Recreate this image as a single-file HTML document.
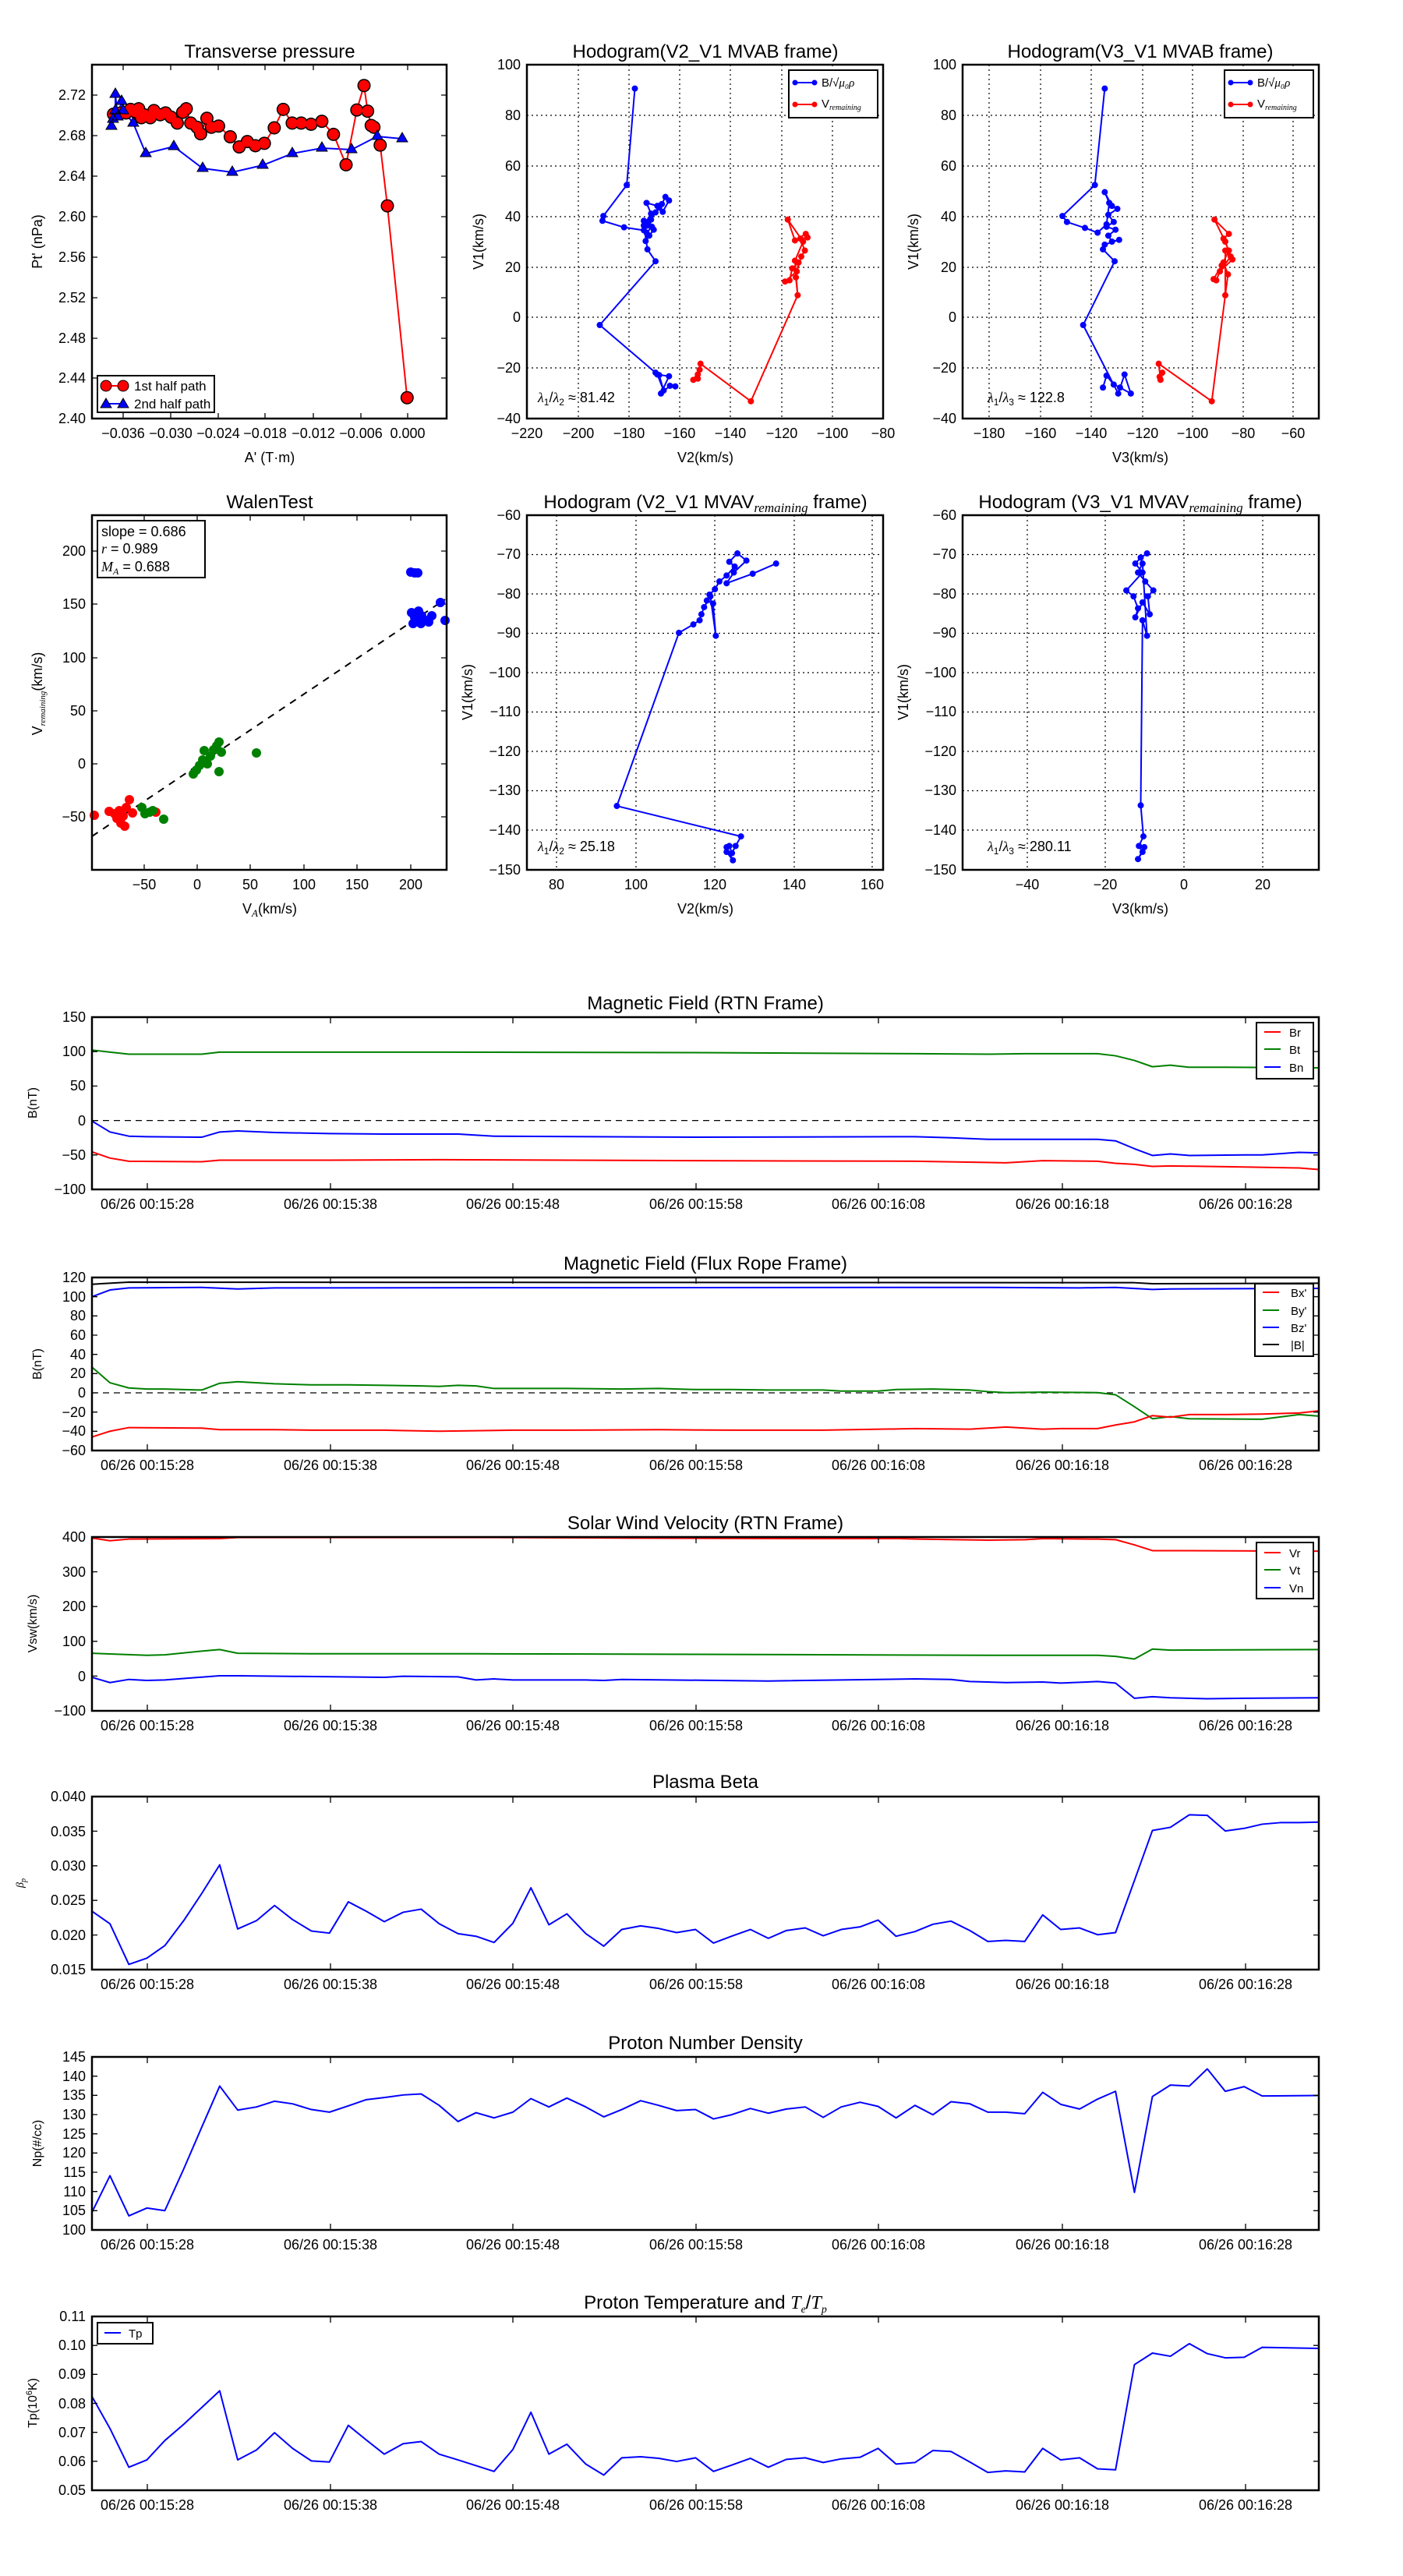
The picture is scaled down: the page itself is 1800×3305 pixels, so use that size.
<!DOCTYPE html>
<html><head><meta charset="utf-8"><style>
html,body{margin:0;padding:0;background:#fff}
text{font-family:"Liberation Sans",sans-serif;font-size:18px;fill:#000}
.t{font-size:24px;text-anchor:middle}
.m{text-anchor:middle}
.e{text-anchor:end}
.fr{fill:none;stroke:#000;stroke-width:2.5}
.tk{stroke:#000;stroke-width:1.3}
.g{stroke:#000;stroke-width:1.2;stroke-dasharray:2,4}
.ln{fill:none;stroke-width:2;vector-effect:non-scaling-stroke;stroke-linejoin:round}
.dot{fill:none;stroke-linecap:round;vector-effect:non-scaling-stroke}
</style></head><body>
<svg width="1800" height="3300" xmlns="http://www.w3.org/2000/svg">
<rect width="1800" height="3300" fill="#fff"/>

<!-- ============ Plot A: Transverse pressure ============ -->
<text class="t" x="346" y="74">Transverse pressure</text>
<g class="tk">
<path d="M118 122h7M118 174h7M118 226h7M118 278h7M118 330h7M118 382h7M118 434h7M118 485h7M573 122h-7M573 174h-7M573 226h-7M573 278h-7M573 330h-7M573 382h-7M573 434h-7M573 485h-7"/>
<path d="M158 537v-7M219 537v-7M280 537v-7M340 537v-7M402 537v-7M463 537v-7M523 537v-7M158 83v7M219 83v7M280 83v7M340 83v7M402 83v7M463 83v7M523 83v7"/>
</g>
<g class="e"><text x="110" y="128">2.72</text><text x="110" y="180">2.68</text><text x="110" y="232">2.64</text><text x="110" y="284">2.60</text><text x="110" y="336">2.56</text><text x="110" y="388">2.52</text><text x="110" y="440">2.48</text><text x="110" y="491">2.44</text><text x="110" y="543">2.40</text></g>
<g class="m"><text x="158" y="562">−0.036</text><text x="219" y="562">−0.030</text><text x="280" y="562">−0.024</text><text x="340" y="562">−0.018</text><text x="402" y="562">−0.012</text><text x="463" y="562">−0.006</text><text x="523" y="562">0.000</text></g>
<text class="m" x="346" y="593">A' (T·m)</text>
<text class="m" transform="translate(54,310) rotate(-90)">Pt' (nPa)</text>
<polyline fill="none" stroke="#00f" stroke-width="2" points="143,162 145,153 148,142 148,121 151,150 156,130 158,142 171,158 187,197 223,188 260,216 298,221 337,212 375,197 413,190 451,192 484,175 516,178"/>
<svg x="118" y="83" width="455" height="454" viewBox="102 108 395 594" preserveAspectRatio="none">
<polyline class="ln" stroke="#f00" points="453,667 431,345 423,243 416,213 413,210 409,186 405,143 397,184 385,276 371,225 358,203 346,208 335,206 325,206 315,183 305,214 294,240 284,244 275,237 266,246 256,229 243,211 235,213 230,198 223,224 219,213 212,206 207,182 203,188 197,206 190,196 184,189 178,192 171,185 167,197 160,192 157,197 154,182 150,187 145,183 140,189 134,189 126,191"/>
<path class="dot" stroke="#000" stroke-width="17" d="M453 667h.01M431 345h.01M423 243h.01M416 213h.01M413 210h.01M409 186h.01M405 143h.01M397 184h.01M385 276h.01M371 225h.01M358 203h.01M346 208h.01M335 206h.01M325 206h.01M315 183h.01M305 214h.01M294 240h.01M284 244h.01M275 237h.01M266 246h.01M256 229h.01M243 211h.01M235 213h.01M230 198h.01M223 224h.01M219 213h.01M212 206h.01M207 182h.01M203 188h.01M197 206h.01M190 196h.01M184 189h.01M178 192h.01M171 185h.01M167 197h.01M160 192h.01M157 197h.01M154 182h.01M150 187h.01M145 183h.01M140 189h.01M134 189h.01M126 191h.01"/>
<path class="dot" stroke="#f00" stroke-width="14" d="M453 667h.01M431 345h.01M423 243h.01M416 213h.01M413 210h.01M409 186h.01M405 143h.01M397 184h.01M385 276h.01M371 225h.01M358 203h.01M346 208h.01M335 206h.01M325 206h.01M315 183h.01M305 214h.01M294 240h.01M284 244h.01M275 237h.01M266 246h.01M256 229h.01M243 211h.01M235 213h.01M230 198h.01M223 224h.01M219 213h.01M212 206h.01M207 182h.01M203 188h.01M197 206h.01M190 196h.01M184 189h.01M178 192h.01M171 185h.01M167 197h.01M160 192h.01M157 197h.01M154 182h.01M150 187h.01M145 183h.01M140 189h.01M134 189h.01M126 191h.01"/>
</svg>
<g fill="#00f" stroke="#000" stroke-width="1">
<path d="M143 154l7 12h-14z M145 145l7 12h-14z M148 134l7 12h-14z M148 113l7 12h-14z M151 142l7 12h-14z M156 122l7 12h-14z M158 134l7 12h-14z M171 150l7 12h-14z M187 189l7 12h-14z M223 180l7 12h-14z M260 208l7 12h-14z M298 213l7 12h-14z M337 204l7 12h-14z M375 189l7 12h-14z M413 182l7 12h-14z M451 184l7 12h-14z M484 167l7 12h-14z M516 170l7 12h-14z"/>
</g>
<rect x="125" y="482" width="150" height="47" fill="#fff" stroke="#000" stroke-width="2"/>
<line x1="136" y1="495" x2="158" y2="495" stroke="#f00" stroke-width="2"/>
<circle cx="136" cy="495" r="7" fill="#f00" stroke="#000"/><circle cx="158" cy="495" r="7" fill="#f00" stroke="#000"/>
<text x="172" y="501" style="font-size:17px">1st half path</text>
<line x1="136" y1="518" x2="158" y2="518" stroke="#00f" stroke-width="2"/>
<path d="M136 511l7 12h-14zM158 511l7 12h-14z" fill="#00f" stroke="#000"/>
<text x="172" y="524" style="font-size:17px">2nd half path</text>
<rect class="fr" x="118" y="83" width="455" height="454"/>

<!-- ============ Plot B ============ -->
<text class="t" x="905" y="74">Hodogram(V2_V1 MVAB frame)</text>
<g class="g"><path d="M742 83V537M807 83V537M872 83V537M937 83V537M1003 83V537M1068 83V537M676 148H1133M676 213H1133M676 278H1133M676 343H1133M676 407H1133M676 472H1133"/></g>
<g class="e"><text x="668" y="89">100</text><text x="668" y="154">80</text><text x="668" y="219">60</text><text x="668" y="284">40</text><text x="668" y="349">20</text><text x="668" y="413">0</text><text x="668" y="478">−20</text><text x="668" y="543">−40</text></g>
<g class="m"><text x="676" y="562">−220</text><text x="742" y="562">−200</text><text x="807" y="562">−180</text><text x="872" y="562">−160</text><text x="937" y="562">−140</text><text x="1003" y="562">−120</text><text x="1068" y="562">−100</text><text x="1133" y="562">−80</text></g>
<text class="m" x="905" y="593">V2(km/s)</text>
<text class="m" transform="translate(620,310) rotate(-90)">V1(km/s)</text>
<svg x="676" y="83" width="457" height="454" viewBox="586 108 396 594" preserveAspectRatio="none">
<polyline class="ln" stroke="#00f" points="706,148 697,310 671,362 670,370 694,381 716,386 721,372 725,380 719,390 718,404 722,395 727,385 720,378 716,370 724,368 729,356 733,348 736,342 740,330 744,336 737,355 731,345 719,340 724,358 716,378 720,418 729,438 667,545 729,625 733,629 738,655 731,628 744,631 735,660 745,647 751,648"/>
<path class="dot" stroke="#00f" stroke-width="8" d="M706 148h.01M697 310h.01M671 362h.01M670 370h.01M694 381h.01M716 386h.01M721 372h.01M725 380h.01M719 390h.01M718 404h.01M722 395h.01M727 385h.01M720 378h.01M716 370h.01M724 368h.01M729 356h.01M733 348h.01M736 342h.01M740 330h.01M744 336h.01M737 355h.01M731 345h.01M719 340h.01M724 358h.01M716 378h.01M720 418h.01M729 438h.01M667 545h.01M729 625h.01M733 629h.01M738 655h.01M731 628h.01M744 631h.01M735 660h.01M745 647h.01M751 648h.01"/>
<polyline class="ln" stroke="#f00" points="887,495 885,465 888,440 881,450 878,470 873,472 886,455 891,430 895,420 890,400 898,398 896,392 884,403 876,368 893,405 884,437 887,495 835,673 779,610 776,635 771,637 778,620 776,628"/>
<path class="dot" stroke="#f00" stroke-width="8" d="M887 495h.01M885 465h.01M888 440h.01M881 450h.01M878 470h.01M873 472h.01M886 455h.01M891 430h.01M895 420h.01M890 400h.01M898 398h.01M896 392h.01M884 403h.01M876 368h.01M893 405h.01M884 437h.01M835 673h.01M779 610h.01M776 635h.01M771 637h.01M778 620h.01M776 628h.01"/>
</svg>
<rect x="1012" y="90" width="114" height="61" fill="#fff" stroke="#000" stroke-width="2"/>
<line x1="1020" y1="106" x2="1045" y2="106" stroke="#00f" stroke-width="2"/><circle cx="1020" cy="106" r="3.5" fill="#00f"/><circle cx="1045" cy="106" r="3.5" fill="#00f"/>
<text x="1054" y="111" style="font-size:15px">B/√<tspan font-style="italic" font-family="Liberation Serif">μ₀ρ</tspan></text>
<line x1="1020" y1="134" x2="1045" y2="134" stroke="#f00" stroke-width="2"/><circle cx="1020" cy="134" r="3.5" fill="#f00"/><circle cx="1045" cy="134" r="3.5" fill="#f00"/>
<text x="1054" y="138" style="font-size:15px">V<tspan font-style="italic" font-family="Liberation Serif" style="font-size:10px" dy="3">remaining</tspan></text>
<text x="690" y="516"><tspan font-family="Liberation Serif" font-style="italic">λ</tspan><tspan style="font-size:12px" dy="4">1</tspan><tspan dy="-4">/</tspan><tspan font-family="Liberation Serif" font-style="italic">λ</tspan><tspan style="font-size:12px" dy="4">2</tspan><tspan dy="-4"> ≈ 81.42</tspan></text>
<rect class="fr" x="676" y="83" width="457" height="454"/>

<!-- ============ Plot C ============ -->
<text class="t" x="1463" y="74">Hodogram(V3_V1 MVAB frame)</text>
<g class="g"><path d="M1269 83V537M1335 83V537M1400 83V537M1466 83V537M1530 83V537M1595 83V537M1659 83V537M1235 148H1692M1235 213H1692M1235 278H1692M1235 343H1692M1235 407H1692M1235 472H1692"/></g>
<g class="e"><text x="1227" y="89">100</text><text x="1227" y="154">80</text><text x="1227" y="219">60</text><text x="1227" y="284">40</text><text x="1227" y="349">20</text><text x="1227" y="413">0</text><text x="1227" y="478">−20</text><text x="1227" y="543">−40</text></g>
<g class="m"><text x="1269" y="562">−180</text><text x="1335" y="562">−160</text><text x="1400" y="562">−140</text><text x="1466" y="562">−120</text><text x="1530" y="562">−100</text><text x="1595" y="562">−80</text><text x="1659" y="562">−60</text></g>
<text class="m" x="1463" y="593">V3(km/s)</text>
<text class="m" transform="translate(1178,310) rotate(-90)">V1(km/s)</text>
<svg x="1235" y="83" width="457" height="454" viewBox="1070 108 396 594" preserveAspectRatio="none">
<polyline class="ln" stroke="#00f" points="1228,148 1217,310 1181,362 1186,372 1206,382 1220,390 1230,376 1233,340 1228,322 1236,345 1242,350 1232,360 1238,372 1230,380 1240,385 1232,395 1236,405 1244,402 1228,410 1226,418 1239,438 1204,545 1243,660 1250,628 1257,660 1245,650 1238,645 1230,630 1226,650"/>
<path class="dot" stroke="#00f" stroke-width="8" d="M1228 148h.01M1217 310h.01M1181 362h.01M1186 372h.01M1206 382h.01M1220 390h.01M1230 376h.01M1233 340h.01M1228 322h.01M1236 345h.01M1242 350h.01M1232 360h.01M1238 372h.01M1230 380h.01M1240 385h.01M1232 395h.01M1236 405h.01M1244 402h.01M1228 410h.01M1226 418h.01M1239 438h.01M1204 545h.01M1243 660h.01M1250 628h.01M1257 660h.01M1245 650h.01M1238 645h.01M1230 630h.01M1226 650h.01"/>
<polyline class="ln" stroke="#f00" points="1362,495 1365,460 1360,440 1352,470 1349,468 1358,445 1366,420 1360,400 1366,392 1350,368 1362,405 1368,430 1356,455 1370,435 1362,420 1362,495 1347,673 1288,610 1290,637 1292,625 1289,632"/>
<path class="dot" stroke="#f00" stroke-width="8" d="M1362 495h.01M1365 460h.01M1360 440h.01M1352 470h.01M1349 468h.01M1358 445h.01M1366 420h.01M1360 400h.01M1366 392h.01M1350 368h.01M1362 405h.01M1368 430h.01M1356 455h.01M1370 435h.01M1362 420h.01M1347 673h.01M1288 610h.01M1290 637h.01M1292 625h.01M1289 632h.01"/>
</svg>
<rect x="1571" y="90" width="114" height="61" fill="#fff" stroke="#000" stroke-width="2"/>
<line x1="1579" y1="106" x2="1604" y2="106" stroke="#00f" stroke-width="2"/><circle cx="1579" cy="106" r="3.5" fill="#00f"/><circle cx="1604" cy="106" r="3.5" fill="#00f"/>
<text x="1613" y="111" style="font-size:15px">B/√<tspan font-style="italic" font-family="Liberation Serif">μ₀ρ</tspan></text>
<line x1="1579" y1="134" x2="1604" y2="134" stroke="#f00" stroke-width="2"/><circle cx="1579" cy="134" r="3.5" fill="#f00"/><circle cx="1604" cy="134" r="3.5" fill="#f00"/>
<text x="1613" y="138" style="font-size:15px">V<tspan font-style="italic" font-family="Liberation Serif" style="font-size:10px" dy="3">remaining</tspan></text>
<text x="1267" y="516"><tspan font-family="Liberation Serif" font-style="italic">λ</tspan><tspan style="font-size:12px" dy="4">1</tspan><tspan dy="-4">/</tspan><tspan font-family="Liberation Serif" font-style="italic">λ</tspan><tspan style="font-size:12px" dy="4">3</tspan><tspan dy="-4"> ≈ 122.8</tspan></text>
<rect class="fr" x="1235" y="83" width="457" height="454"/>

<!-- ============ Plot D: WalenTest ============ -->
<text class="t" x="346" y="652">WalenTest</text>
<g class="tk">
<path d="M118 707h7M118 775h7M118 844h7M118 912h7M118 980h7M118 1048h7M573 707h-7M573 775h-7M573 844h-7M573 912h-7M573 980h-7M573 1048h-7"/>
<path d="M185 1116v-7M253 1116v-7M321 1116v-7M390 1116v-7M458 1116v-7M527 1116v-7M185 661v7M253 661v7M321 661v7M390 661v7M458 661v7M527 661v7"/>
</g>
<g class="e"><text x="110" y="713">200</text><text x="110" y="781">150</text><text x="110" y="850">100</text><text x="110" y="918">50</text><text x="110" y="986">0</text><text x="110" y="1054">−50</text></g>
<g class="m"><text x="185" y="1141">−50</text><text x="253" y="1141">0</text><text x="321" y="1141">50</text><text x="390" y="1141">100</text><text x="458" y="1141">150</text><text x="527" y="1141">200</text></g>
<text class="m" x="346" y="1172">V<tspan font-family="Liberation Serif" font-style="italic" style="font-size:13px" dy="4">A</tspan><tspan dy="-4">(km/s)</tspan></text>
<text class="m" transform="translate(54,890) rotate(-90)">V<tspan font-family="Liberation Serif" font-style="italic" style="font-size:11px" dy="4">remaining</tspan><tspan dy="-4">(km/s)</tspan></text>
<line x1="118" y1="1073" x2="571" y2="769" stroke="#000" stroke-width="2" stroke-dasharray="9,8"/>
<g fill="#00f">
<circle cx="527" cy="734" r="6"/><circle cx="532" cy="735" r="6"/><circle cx="536" cy="735" r="6"/>
<circle cx="528" cy="786" r="6"/><circle cx="532" cy="792" r="6"/><circle cx="530" cy="800" r="6"/><circle cx="536" cy="796" r="6"/><circle cx="540" cy="800" r="6"/><circle cx="541" cy="790" r="6"/><circle cx="546" cy="796" r="6"/><circle cx="550" cy="798" r="6"/><circle cx="554" cy="790" r="6"/><circle cx="537" cy="784" r="6"/><circle cx="565" cy="773" r="6"/><circle cx="571" cy="796" r="6"/>
</g>
<g fill="#f00">
<circle cx="121" cy="1046" r="6"/><circle cx="140" cy="1041" r="6"/><circle cx="147" cy="1044" r="6"/><circle cx="150" cy="1050" r="6"/><circle cx="155" cy="1056" r="6"/><circle cx="158" cy="1047" r="6"/><circle cx="153" cy="1040" r="6"/><circle cx="162" cy="1036" r="6"/><circle cx="166" cy="1026" r="6"/><circle cx="170" cy="1043" r="6"/><circle cx="200" cy="1042" r="6"/><circle cx="160" cy="1060" r="6"/>
</g>
<g fill="#008000">
<circle cx="182" cy="1036" r="6"/><circle cx="186" cy="1044" r="6"/><circle cx="192" cy="1042" r="6"/><circle cx="196" cy="1040" r="6"/><circle cx="210" cy="1051" r="6"/><circle cx="248" cy="993" r="6"/><circle cx="252" cy="988" r="6"/><circle cx="256" cy="982" r="6"/><circle cx="260" cy="975" r="6"/><circle cx="262" cy="963" r="6"/><circle cx="266" cy="980" r="6"/><circle cx="270" cy="970" r="6"/><circle cx="274" cy="962" r="6"/><circle cx="278" cy="957" r="6"/><circle cx="281" cy="952" r="6"/><circle cx="284" cy="965" r="6"/><circle cx="281" cy="990" r="6"/><circle cx="329" cy="966" r="6"/>
</g>
<rect x="125" y="668" width="138" height="73" fill="#fff" stroke="#000" stroke-width="2"/>
<text x="130" y="688">slope = 0.686</text>
<text x="130" y="710"><tspan font-family="Liberation Serif" font-style="italic">r</tspan> = 0.989</text>
<text x="130" y="733"><tspan font-family="Liberation Serif" font-style="italic">M</tspan><tspan font-family="Liberation Serif" font-style="italic" style="font-size:12px" dy="4">A</tspan><tspan dy="-4"> = 0.688</tspan></text>
<rect class="fr" x="118" y="661" width="455" height="455"/>

<!-- ============ Plot E ============ -->
<text class="t" x="905" y="652">Hodogram (V2_V1 MVAV<tspan font-family="Liberation Serif" font-style="italic" style="font-size:17px" dy="5">remaining</tspan><tspan dy="-5"> frame)</tspan></text>
<g class="g"><path d="M714 661V1116M816 661V1116M917 661V1116M1019 661V1116M1119 661V1116M676 711.5H1133M676 762H1133M676 812.5H1133M676 863H1133M676 913.5H1133M676 964H1133M676 1014.5H1133M676 1065H1133"/></g>
<g class="e"><text x="668" y="667">−60</text><text x="668" y="717">−70</text><text x="668" y="768">−80</text><text x="668" y="818">−90</text><text x="668" y="869">−100</text><text x="668" y="919">−110</text><text x="668" y="970">−120</text><text x="668" y="1020">−130</text><text x="668" y="1071">−140</text><text x="668" y="1122">−150</text></g>
<g class="m"><text x="714" y="1141">80</text><text x="816" y="1141">100</text><text x="917" y="1141">120</text><text x="1019" y="1141">140</text><text x="1119" y="1141">160</text></g>
<text class="m" x="905" y="1172">V2(km/s)</text>
<text class="m" transform="translate(606,888) rotate(-90)">V1(km/s)</text>
<svg x="676" y="661" width="457" height="455" viewBox="586 864 396 594" preserveAspectRatio="none">
<polyline class="ln" stroke="#00f" points="863,945 837,962 808,978 816,960 830,940 820,928 811,942 817,950 808,965 800,975 795,988 789,997 786,1007 793,1012 796,1066 790,1000 783,1018 780,1030 778,1040 771,1047 755,1061 686,1351 824,1402 818,1418 814,1430 811,1418 808,1428 815,1442 808,1420"/>
<path class="dot" stroke="#00f" stroke-width="8" d="M863 945h.01M837 962h.01M808 978h.01M816 960h.01M830 940h.01M820 928h.01M811 942h.01M817 950h.01M808 965h.01M800 975h.01M795 988h.01M789 997h.01M786 1007h.01M793 1012h.01M796 1066h.01M790 1000h.01M783 1018h.01M780 1030h.01M778 1040h.01M771 1047h.01M755 1061h.01M686 1351h.01M824 1402h.01M818 1418h.01M814 1430h.01M811 1418h.01M808 1428h.01M815 1442h.01M808 1420h.01"/>
</svg>
<text x="690" y="1092"><tspan font-family="Liberation Serif" font-style="italic">λ</tspan><tspan style="font-size:12px" dy="4">1</tspan><tspan dy="-4">/</tspan><tspan font-family="Liberation Serif" font-style="italic">λ</tspan><tspan style="font-size:12px" dy="4">2</tspan><tspan dy="-4"> ≈ 25.18</tspan></text>
<rect class="fr" x="676" y="661" width="457" height="455"/>

<!-- ============ Plot F ============ -->
<text class="t" x="1463" y="652">Hodogram (V3_V1 MVAV<tspan font-family="Liberation Serif" font-style="italic" style="font-size:17px" dy="5">remaining</tspan><tspan dy="-5"> frame)</tspan></text>
<g class="g"><path d="M1318 661V1116M1418 661V1116M1519 661V1116M1620 661V1116M1235 711.5H1692M1235 762H1692M1235 812.5H1692M1235 863H1692M1235 913.5H1692M1235 964H1692M1235 1014.5H1692M1235 1065H1692"/></g>
<g class="e"><text x="1227" y="667">−60</text><text x="1227" y="717">−70</text><text x="1227" y="768">−80</text><text x="1227" y="818">−90</text><text x="1227" y="869">−100</text><text x="1227" y="919">−110</text><text x="1227" y="970">−120</text><text x="1227" y="1020">−130</text><text x="1227" y="1071">−140</text><text x="1227" y="1122">−150</text></g>
<g class="m"><text x="1318" y="1141">−40</text><text x="1418" y="1141">−20</text><text x="1519" y="1141">0</text><text x="1620" y="1141">20</text></g>
<text class="m" x="1463" y="1172">V3(km/s)</text>
<text class="m" transform="translate(1165,888) rotate(-90)">V1(km/s)</text>
<svg x="1235" y="661" width="457" height="455" viewBox="1070 864 396 594" preserveAspectRatio="none">
<polyline class="ln" stroke="#00f" points="1275,928 1268,935 1262,945 1270,960 1252,990 1260,1000 1265,1020 1262,1035 1270,1010 1278,1030 1276,1000 1282,990 1273,975 1265,960 1270,945 1275,1066 1270,1040 1268,1350 1271,1402 1266,1418 1270,1428 1265,1440 1272,1420"/>
<path class="dot" stroke="#00f" stroke-width="8" d="M1275 928h.01M1268 935h.01M1262 945h.01M1270 960h.01M1252 990h.01M1260 1000h.01M1265 1020h.01M1262 1035h.01M1270 1010h.01M1278 1030h.01M1276 1000h.01M1282 990h.01M1273 975h.01M1265 960h.01M1270 945h.01M1275 1066h.01M1270 1040h.01M1268 1350h.01M1271 1402h.01M1266 1418h.01M1270 1428h.01M1265 1440h.01M1272 1420h.01"/>
</svg>
<text x="1267" y="1092"><tspan font-family="Liberation Serif" font-style="italic">λ</tspan><tspan style="font-size:12px" dy="4">1</tspan><tspan dy="-4">/</tspan><tspan font-family="Liberation Serif" font-style="italic">λ</tspan><tspan style="font-size:12px" dy="4">3</tspan><tspan dy="-4"> ≈ 280.11</tspan></text>
<rect class="fr" x="1235" y="661" width="457" height="455"/>

<!-- ============ Time series common date ticks ============ -->
<!-- Panel 1: RTN B -->
<text class="t" x="905" y="1295">Magnetic Field (RTN Frame)</text>
<line x1="118" y1="1437.6" x2="1692" y2="1437.6" stroke="#000" stroke-width="1.3" stroke-dasharray="8,6"/>
<svg x="118" y="1305" width="1574" height="221" viewBox="102 82 1364 330" preserveAspectRatio="none">
<polyline class="ln" stroke="#008000" points="102,145 122,149 143,153 224,153 244,149 488,149 773,150 1017,152 1098,153 1139,152 1220,152 1240,156 1261,165 1281,177 1301,174 1322,178 1362,178 1466,179"/>
<polyline class="ln" stroke="#00f" points="102,281 122,302 143,310 163,311 224,312 244,302 264,300 305,303 366,305 427,306 488,306 509,306 549,310 773,312 1017,311 1057,313 1098,316 1220,316 1240,319 1261,334 1281,347 1301,344 1322,347 1383,346 1403,346 1444,341 1466,342"/>
<polyline class="ln" stroke="#f00" points="102,340 122,352 143,358 224,359 244,356 366,356 488,355 773,357 1017,358 1118,361 1159,357 1220,358 1240,362 1261,364 1281,368 1301,367 1383,369 1444,371 1466,374"/>
</svg>
<g class="tk"><path d="M118 1349.2h7M118 1393.4h7M118 1437.6h7M118 1481.8h7M1692 1349.2h-7M1692 1393.4h-7M1692 1437.6h-7M1692 1481.8h-7M189 1526v-8M424 1526v-8M658 1526v-8M893 1526v-8M1127 1526v-8M1363 1526v-8M1598 1526v-8M189 1305v8M424 1305v8M658 1305v8M893 1305v8M1127 1305v8M1363 1305v8M1598 1305v8"/></g>
<g class="e"><text x="110" y="1311">150</text><text x="110" y="1355">100</text><text x="110" y="1399">50</text><text x="110" y="1444">0</text><text x="110" y="1488">−50</text><text x="110" y="1532">−100</text></g>
<g class="m"><text x="189" y="1551">06/26 00:15:28</text><text x="424" y="1551">06/26 00:15:38</text><text x="658" y="1551">06/26 00:15:48</text><text x="893" y="1551">06/26 00:15:58</text><text x="1127" y="1551">06/26 00:16:08</text><text x="1363" y="1551">06/26 00:16:18</text><text x="1598" y="1551">06/26 00:16:28</text></g>
<text class="m" transform="translate(47,1415) rotate(-90)" style="font-size:16px">B(nT)</text>
<rect x="1612" y="1312" width="73" height="72" fill="#fff" stroke="#000" stroke-width="2"/>
<path d="M1622 1324h21" stroke="#f00" stroke-width="2"/><path d="M1622 1346h21" stroke="#008000" stroke-width="2"/><path d="M1622 1369h21" stroke="#00f" stroke-width="2"/>
<g style="font-size:15px"><text x="1654" y="1330" style="font-size:15px">Br</text><text x="1654" y="1352" style="font-size:15px">Bt</text><text x="1654" y="1375" style="font-size:15px">Bn</text></g>
<rect class="fr" x="118" y="1305" width="1574" height="221"/>

<!-- Panel 2: Flux rope -->
<text class="t" x="905" y="1629">Magnetic Field (Flux Rope Frame)</text>
<line x1="118" y1="1787" x2="1692" y2="1787" stroke="#000" stroke-width="1.3" stroke-dasharray="8,6"/>
<svg x="118" y="1639" width="1574" height="222" viewBox="102 580 1364 332" preserveAspectRatio="none">
<polyline class="ln" stroke="#000" points="102,593 143,589 1261,590 1281,592 1466,591"/>
<polyline class="ln" stroke="#00f" points="102,617 122,604 143,600 224,599 264,602 305,600 1098,599 1200,600 1240,599 1281,603 1300,602 1466,601"/>
<polyline class="ln" stroke="#008000" points="102,752 122,782 143,792 163,794 183,794 224,796 244,783 264,780 305,784 346,786 387,786 427,787 468,788 488,789 509,787 529,788 549,793 570,793 630,793 691,794 732,793 773,795 813,795 854,796 915,796 935,798 976,798 996,795 1037,794 1078,796 1098,799 1118,801 1159,800 1220,801 1240,805 1261,828 1281,851 1301,847 1322,851 1403,852 1444,843 1466,846"/>
<polyline class="ln" stroke="#f00" points="102,886 122,875 143,868 224,869 244,872 305,872 346,873 427,873 488,875 570,873 630,873 732,872 813,873 915,873 1017,870 1078,871 1118,867 1159,871 1179,870 1220,870 1240,863 1261,857 1281,845 1301,848 1322,843 1362,843 1403,842 1444,840 1466,836"/>
</svg>
<g class="tk"><path d="M118 1663.7h7M118 1688.3h7M118 1713h7M118 1737.7h7M118 1762.3h7M118 1787h7M118 1811.7h7M118 1836.3h7M1692 1663.7h-7M1692 1688.3h-7M1692 1713h-7M1692 1737.7h-7M1692 1762.3h-7M1692 1787h-7M1692 1811.7h-7M1692 1836.3h-7M189 1861v-8M424 1861v-8M658 1861v-8M893 1861v-8M1127 1861v-8M1363 1861v-8M1598 1861v-8M189 1639v8M424 1639v8M658 1639v8M893 1639v8M1127 1639v8M1363 1639v8M1598 1639v8"/></g>
<g class="e"><text x="110" y="1645">120</text><text x="110" y="1670">100</text><text x="110" y="1694">80</text><text x="110" y="1719">60</text><text x="110" y="1744">40</text><text x="110" y="1768">20</text><text x="110" y="1793">0</text><text x="110" y="1818">−20</text><text x="110" y="1842">−40</text><text x="110" y="1867">−60</text></g>
<g class="m"><text x="189" y="1886">06/26 00:15:28</text><text x="424" y="1886">06/26 00:15:38</text><text x="658" y="1886">06/26 00:15:48</text><text x="893" y="1886">06/26 00:15:58</text><text x="1127" y="1886">06/26 00:16:08</text><text x="1363" y="1886">06/26 00:16:18</text><text x="1598" y="1886">06/26 00:16:28</text></g>
<text class="m" transform="translate(53,1750) rotate(-90)" style="font-size:16px">B(nT)</text>
<rect x="1610" y="1647" width="75" height="93" fill="#fff" stroke="#000" stroke-width="2"/>
<path d="M1620 1658h21" stroke="#f00" stroke-width="2"/><path d="M1620 1681h21" stroke="#008000" stroke-width="2"/><path d="M1620 1703h21" stroke="#00f" stroke-width="2"/><path d="M1620 1725h21" stroke="#000" stroke-width="2"/>
<text x="1656" y="1664" style="font-size:15px">Bx'</text><text x="1656" y="1687" style="font-size:15px">By'</text><text x="1656" y="1709" style="font-size:15px">Bz'</text><text x="1656" y="1731" style="font-size:15px">|B|</text>
<rect class="fr" x="118" y="1639" width="1574" height="222"/>

<!-- Panel 3: Velocity -->
<text class="t" x="905" y="1962">Solar Wind Velocity (RTN Frame)</text>
<svg x="118" y="1972" width="1574" height="223" viewBox="102 1078 1364 332" preserveAspectRatio="none">
<polyline class="ln" stroke="#f00" points="102,1080 122,1085 143,1082 244,1081 264,1079 550,1079 700,1080 900,1081 1000,1081 1020,1082 1098,1084 1140,1083 1160,1081 1220,1082 1240,1083 1261,1093 1281,1104 1301,1104 1466,1105"/>
<polyline class="ln" stroke="#008000" points="102,1300 163,1304 183,1303 224,1296 244,1293 264,1300 346,1301 529,1301 773,1302 1098,1304 1220,1304 1240,1306 1261,1311 1281,1292 1301,1294 1466,1293"/>
<polyline class="ln" stroke="#00f" points="102,1346 122,1356 143,1350 163,1352 183,1351 244,1343 264,1343 427,1346 448,1344 509,1345 529,1351 549,1349 570,1351 651,1351 671,1352 691,1350 854,1353 1017,1349 1057,1350 1078,1354 1118,1356 1159,1355 1179,1357 1220,1354 1240,1357 1261,1386 1281,1383 1301,1385 1342,1387 1383,1386 1466,1385"/>
</svg>
<g class="tk"><path d="M118 2016.6h7M118 2061.2h7M118 2105.8h7M118 2150.4h7M1692 2016.6h-7M1692 2061.2h-7M1692 2105.8h-7M1692 2150.4h-7M189 2195v-8M424 2195v-8M658 2195v-8M893 2195v-8M1127 2195v-8M1363 2195v-8M1598 2195v-8M189 1972v8M424 1972v8M658 1972v8M893 1972v8M1127 1972v8M1363 1972v8M1598 1972v8"/></g>
<g class="e"><text x="110" y="1978">400</text><text x="110" y="2023">300</text><text x="110" y="2067">200</text><text x="110" y="2112">100</text><text x="110" y="2157">0</text><text x="110" y="2201">−100</text></g>
<g class="m"><text x="189" y="2220">06/26 00:15:28</text><text x="424" y="2220">06/26 00:15:38</text><text x="658" y="2220">06/26 00:15:48</text><text x="893" y="2220">06/26 00:15:58</text><text x="1127" y="2220">06/26 00:16:08</text><text x="1363" y="2220">06/26 00:16:18</text><text x="1598" y="2220">06/26 00:16:28</text></g>
<text class="m" transform="translate(47,2083) rotate(-90)" style="font-size:16px">Vsw(km/s)</text>
<rect x="1612" y="1979" width="73" height="72" fill="#fff" stroke="#000" stroke-width="2"/>
<path d="M1622 1992h21" stroke="#f00" stroke-width="2"/><path d="M1622 2014h21" stroke="#008000" stroke-width="2"/><path d="M1622 2037h21" stroke="#00f" stroke-width="2"/>
<text x="1654" y="1998" style="font-size:15px">Vr</text><text x="1654" y="2020" style="font-size:15px">Vt</text><text x="1654" y="2043" style="font-size:15px">Vn</text>
<rect class="fr" x="118" y="1972" width="1574" height="223"/>

<!-- Panel 4: Plasma beta -->
<text class="t" x="905" y="2294">Plasma Beta</text>
<svg x="118" y="2305" width="1574" height="222" viewBox="102 82 1364 332" preserveAspectRatio="none">
<polyline class="ln" stroke="#00f" points="102,302 122,326 143,404 163,392 183,368 204,320 224,268 244,213 264,336 285,320 305,291 325,318 346,340 366,344 387,284 407,302 427,322 448,304 468,298 488,326 509,345 529,350 549,362 570,325 590,257 610,328 630,307 651,345 671,369 691,337 712,330 732,335 752,343 773,337 793,363 813,350 834,337 854,354 874,339 895,334 915,349 935,337 956,332 976,319 996,350 1017,341 1037,327 1057,321 1078,339 1098,360 1118,358 1139,360 1159,309 1179,337 1200,334 1220,347 1240,343 1261,243 1281,147 1301,141 1322,117 1342,118 1362,148 1383,143 1403,135 1423,132 1444,132 1466,131"/>
</svg>
<g class="tk"><path d="M118 2349.4h7M118 2393.8h7M118 2438.2h7M118 2482.6h7M1692 2349.4h-7M1692 2393.8h-7M1692 2438.2h-7M1692 2482.6h-7M189 2527v-8M424 2527v-8M658 2527v-8M893 2527v-8M1127 2527v-8M1363 2527v-8M1598 2527v-8M189 2305v8M424 2305v8M658 2305v8M893 2305v8M1127 2305v8M1363 2305v8M1598 2305v8"/></g>
<g class="e"><text x="110" y="2311">0.040</text><text x="110" y="2356">0.035</text><text x="110" y="2400">0.030</text><text x="110" y="2444">0.025</text><text x="110" y="2489">0.020</text><text x="110" y="2533">0.015</text></g>
<g class="m"><text x="189" y="2552">06/26 00:15:28</text><text x="424" y="2552">06/26 00:15:38</text><text x="658" y="2552">06/26 00:15:48</text><text x="893" y="2552">06/26 00:15:58</text><text x="1127" y="2552">06/26 00:16:08</text><text x="1363" y="2552">06/26 00:16:18</text><text x="1598" y="2552">06/26 00:16:28</text></g>
<text class="m" transform="translate(30,2416) rotate(-90)" style="font-size:14px;font-family:'Liberation Serif',serif;font-style:italic">β<tspan style="font-size:10px" dy="3">p</tspan></text>
<rect class="fr" x="118" y="2305" width="1574" height="222"/>

<!-- Panel 5: Np -->
<text class="t" x="905" y="2629">Proton Number Density</text>
<svg x="118" y="2639" width="1574" height="222" viewBox="102 580 1364 332" preserveAspectRatio="none">
<polyline class="ln" stroke="#00f" points="102,878 122,808 143,885 163,870 183,875 204,795 224,715 244,636 264,682 285,676 305,665 325,670 346,681 366,686 387,674 407,662 427,658 448,653 468,651 488,673 509,704 529,687 549,697 570,686 590,660 610,676 630,659 651,676 671,695 691,681 712,664 732,673 752,683 773,681 793,699 813,691 834,679 854,688 874,680 895,676 915,696 935,676 956,667 976,675 996,697 1017,673 1037,691 1057,666 1078,670 1098,686 1118,686 1139,689 1159,648 1179,671 1200,680 1220,661 1240,646 1261,840 1281,656 1301,634 1322,636 1342,603 1362,646 1383,637 1403,655 1466,654"/>
</svg>
<g class="tk"><path d="M118 2663.7h7M118 2688.3h7M118 2713h7M118 2737.7h7M118 2762.3h7M118 2787h7M118 2811.7h7M118 2836.3h7M1692 2663.7h-7M1692 2688.3h-7M1692 2713h-7M1692 2737.7h-7M1692 2762.3h-7M1692 2787h-7M1692 2811.7h-7M1692 2836.3h-7M189 2861v-8M424 2861v-8M658 2861v-8M893 2861v-8M1127 2861v-8M1363 2861v-8M1598 2861v-8M189 2639v8M424 2639v8M658 2639v8M893 2639v8M1127 2639v8M1363 2639v8M1598 2639v8"/></g>
<g class="e"><text x="110" y="2645">145</text><text x="110" y="2670">140</text><text x="110" y="2694">135</text><text x="110" y="2719">130</text><text x="110" y="2744">125</text><text x="110" y="2768">120</text><text x="110" y="2793">115</text><text x="110" y="2818">110</text><text x="110" y="2842">105</text><text x="110" y="2867">100</text></g>
<g class="m"><text x="189" y="2886">06/26 00:15:28</text><text x="424" y="2886">06/26 00:15:38</text><text x="658" y="2886">06/26 00:15:48</text><text x="893" y="2886">06/26 00:15:58</text><text x="1127" y="2886">06/26 00:16:08</text><text x="1363" y="2886">06/26 00:16:18</text><text x="1598" y="2886">06/26 00:16:28</text></g>
<text class="m" transform="translate(53,2750) rotate(-90)" style="font-size:16px">Np(#/cc)</text>
<rect class="fr" x="118" y="2639" width="1574" height="222"/>

<!-- Panel 6: Tp -->
<text class="t" x="905" y="2962">Proton Temperature and <tspan font-family="Liberation Serif" font-style="italic">T</tspan><tspan font-family="Liberation Serif" font-style="italic" style="font-size:14px" dy="5">e</tspan><tspan dy="-5">/</tspan><tspan font-family="Liberation Serif" font-style="italic">T</tspan><tspan font-family="Liberation Serif" font-style="italic" style="font-size:14px" dy="5">p</tspan></text>
<svg x="118" y="2972" width="1574" height="223" viewBox="102 1078 1364 332" preserveAspectRatio="none">
<polyline class="ln" stroke="#00f" points="102,1231 122,1292 143,1366 163,1352 183,1315 204,1284 224,1252 244,1220 264,1352 285,1333 305,1300 325,1330 346,1354 366,1356 387,1286 407,1314 427,1341 448,1321 468,1317 488,1341 509,1352 529,1363 549,1374 570,1332 590,1261 610,1341 630,1322 651,1360 671,1381 691,1348 712,1346 732,1349 752,1355 773,1348 793,1374 813,1362 834,1349 854,1366 874,1351 895,1348 915,1357 935,1350 956,1347 976,1330 996,1360 1017,1357 1037,1334 1057,1336 1078,1356 1098,1376 1118,1373 1139,1375 1159,1330 1179,1352 1200,1348 1220,1369 1240,1371 1261,1170 1281,1148 1301,1154 1322,1130 1342,1149 1362,1157 1383,1156 1403,1137 1466,1139"/>
</svg>
<g class="tk"><path d="M118 3009.2h7M118 3046.3h7M118 3083.5h7M118 3120.7h7M118 3157.8h7M1692 3009.2h-7M1692 3046.3h-7M1692 3083.5h-7M1692 3120.7h-7M1692 3157.8h-7M189 3195v-8M424 3195v-8M658 3195v-8M893 3195v-8M1127 3195v-8M1363 3195v-8M1598 3195v-8M189 2972v8M424 2972v8M658 2972v8M893 2972v8M1127 2972v8M1363 2972v8M1598 2972v8"/></g>
<g class="e"><text x="110" y="2978">0.11</text><text x="110" y="3015">0.10</text><text x="110" y="3052">0.09</text><text x="110" y="3090">0.08</text><text x="110" y="3127">0.07</text><text x="110" y="3164">0.06</text><text x="110" y="3201">0.05</text></g>
<g class="m"><text x="189" y="3220">06/26 00:15:28</text><text x="424" y="3220">06/26 00:15:38</text><text x="658" y="3220">06/26 00:15:48</text><text x="893" y="3220">06/26 00:15:58</text><text x="1127" y="3220">06/26 00:16:08</text><text x="1363" y="3220">06/26 00:16:18</text><text x="1598" y="3220">06/26 00:16:28</text></g>
<text class="m" transform="translate(47,3083) rotate(-90)" style="font-size:16px">Tp(10<tspan style="font-size:11px" dy="-6">6</tspan><tspan dy="6">K)</tspan></text>
<rect x="125" y="2980" width="71" height="27" fill="#fff" stroke="#000" stroke-width="2"/>
<path d="M134 2993h21" stroke="#00f" stroke-width="2"/>
<text x="165" y="2999" style="font-size:15px">Tp</text>
<rect class="fr" x="118" y="2972" width="1574" height="223"/>
</svg>
</body></html>
